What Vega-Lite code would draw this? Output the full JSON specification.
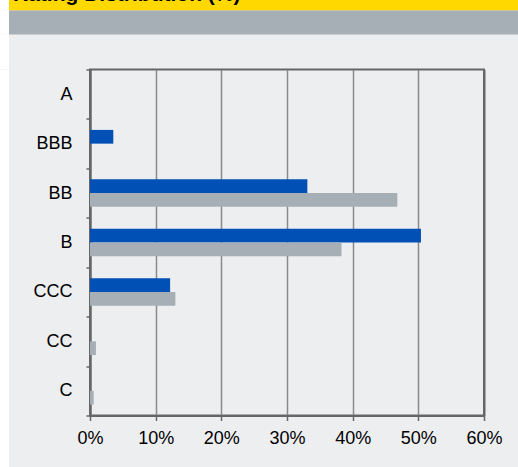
{
  "$schema": "https://vega.github.io/schema/vega-lite/v6.json",
  "background": "#EDEEF0",
  "padding": {"left": 0, "top": -16.5, "right": 0, "bottom": 0},
  "columns": 3,
  "align": "each",
  "bounds": "flush",
  "spacing": 0,
  "config": {
    "font": "Liberation Sans",
    "view": {"stroke": null}
  },
  "concat": [
    {"width": 9, "height": 11, "view": {"fill": "#FFFFFF", "stroke": null}, "data": {"values": []}, "mark": "rect", "encoding": {}},
    {"width": 81, "height": 11, "view": {"fill": "#FFD800", "stroke": null}, "data": {"values": []}, "mark": "rect", "encoding": {}},
    {
      "width": 428,
      "height": 11,
      "view": {"fill": "#FFD800", "stroke": null},
      "title": {
        "text": "Rating Distribution (%)",
        "anchor": "start",
        "orient": "bottom",
        "frame": "group",
        "offset": -9.5,
        "baseline": "alphabetic",
        "dx": -77,
        "fontSize": 21,
        "fontWeight": "bold",
        "font": "Liberation Sans",
        "color": "#000000"
      },
      "data": {"values": []},
      "mark": "rect",
      "encoding": {}
    },
    {"width": 9, "height": 24, "view": {"fill": "#FFFFFF", "stroke": null}, "data": {"values": []}, "mark": "rect", "encoding": {}},
    {"width": 81, "height": 24, "view": {"fill": "#A5AFB5", "stroke": null}, "data": {"values": []}, "mark": "rect", "encoding": {}},
    {"width": 428, "height": 24, "view": {"fill": "#A5AFB5", "stroke": null}, "data": {"values": []}, "mark": "rect", "encoding": {}},
    {"width": 9, "height": 34.5, "view": {"fill": "#FFFFFF", "stroke": null}, "data": {"values": []}, "mark": "rect", "encoding": {}},
    {"width": 81, "height": 34.5, "data": {"values": []}, "mark": "rect", "encoding": {}},
    {"width": 428, "height": 34.5, "data": {"values": []}, "mark": "rect", "encoding": {}},
    {"width": 9, "height": 397.5, "view": {"fill": "#FFFFFF", "stroke": null}, "data": {"values": []}, "mark": "rect", "encoding": {}},
    {"width": 81, "height": 346, "data": {"values": []}, "mark": "rect", "encoding": {}},
    {
      "width": 394,
      "height": 346,
      "view": {"fill": "#EDEEF0", "stroke": "#666666", "strokeWidth": 2},
      "data": {
        "values": [
          {"rating": "A", "series": "Fund", "share": 0},
          {"rating": "A", "series": "Benchmark", "share": 0},
          {"rating": "BBB", "series": "Fund", "share": 0.0355},
          {"rating": "BBB", "series": "Benchmark", "share": 0},
          {"rating": "BB", "series": "Fund", "share": 0.331},
          {"rating": "BB", "series": "Benchmark", "share": 0.468},
          {"rating": "B", "series": "Fund", "share": 0.504},
          {"rating": "B", "series": "Benchmark", "share": 0.383},
          {"rating": "CCC", "series": "Fund", "share": 0.122},
          {"rating": "CCC", "series": "Benchmark", "share": 0.13},
          {"rating": "CC", "series": "Fund", "share": 0},
          {"rating": "CC", "series": "Benchmark", "share": 0.009},
          {"rating": "C", "series": "Fund", "share": 0},
          {"rating": "C", "series": "Benchmark", "share": 0.0056}
        ]
      },
      "mark": {"type": "bar"},
      "encoding": {
        "y": {
          "field": "rating",
          "type": "nominal",
          "sort": ["A", "BBB", "BB", "B", "CCC", "CC", "C"],
          "scale": {"paddingInner": 0, "paddingOuter": 0},
          "axis": {
            "title": null,
            "tickBand": "extent",
            "tickExtra": true,
            "tickSize": 4,
            "tickWidth": 1.5,
            "tickColor": "#666666",
            "domainColor": "#666666",
            "domainWidth": 2,
            "labelPadding": 14,
            "labelFontSize": 18,
            "labelColor": "#000000",
            "labelFont": "Liberation Sans",
            "grid": false
          }
        },
        "yOffset": {
          "field": "series",
          "sort": ["Fund", "Benchmark"],
          "scale": {"paddingOuter": 0.8, "paddingInner": 0}
        },
        "x": {
          "field": "share",
          "type": "quantitative",
          "scale": {"domain": [0, 0.6], "nice": false},
          "axis": {
            "title": null,
            "values": [0, 0.1, 0.2, 0.3, 0.4, 0.5, 0.6],
            "format": ".0%",
            "labelFlush": false,
            "grid": true,
            "gridColor": {"condition": {"test": "datum.value == 0 || datum.value == 0.6", "value": "#666666"}, "value": "#8A8A8A"},
            "gridWidth": {"condition": {"test": "datum.value == 0 || datum.value == 0.6", "value": 2}, "value": 1.5},
            "tickSize": 5,
            "tickWidth": 1.5,
            "tickColor": "#666666",
            "domainColor": "#666666",
            "domainWidth": 2,
            "labelPadding": 9,
            "labelFontSize": 18,
            "labelColor": "#000000",
            "labelFont": "Liberation Sans"
          }
        },
        "color": {
          "field": "series",
          "type": "nominal",
          "scale": {"domain": ["Fund", "Benchmark"], "range": ["#0050B5", "#A5AFB5"]},
          "legend": null
        }
      }
    }
  ]
}
